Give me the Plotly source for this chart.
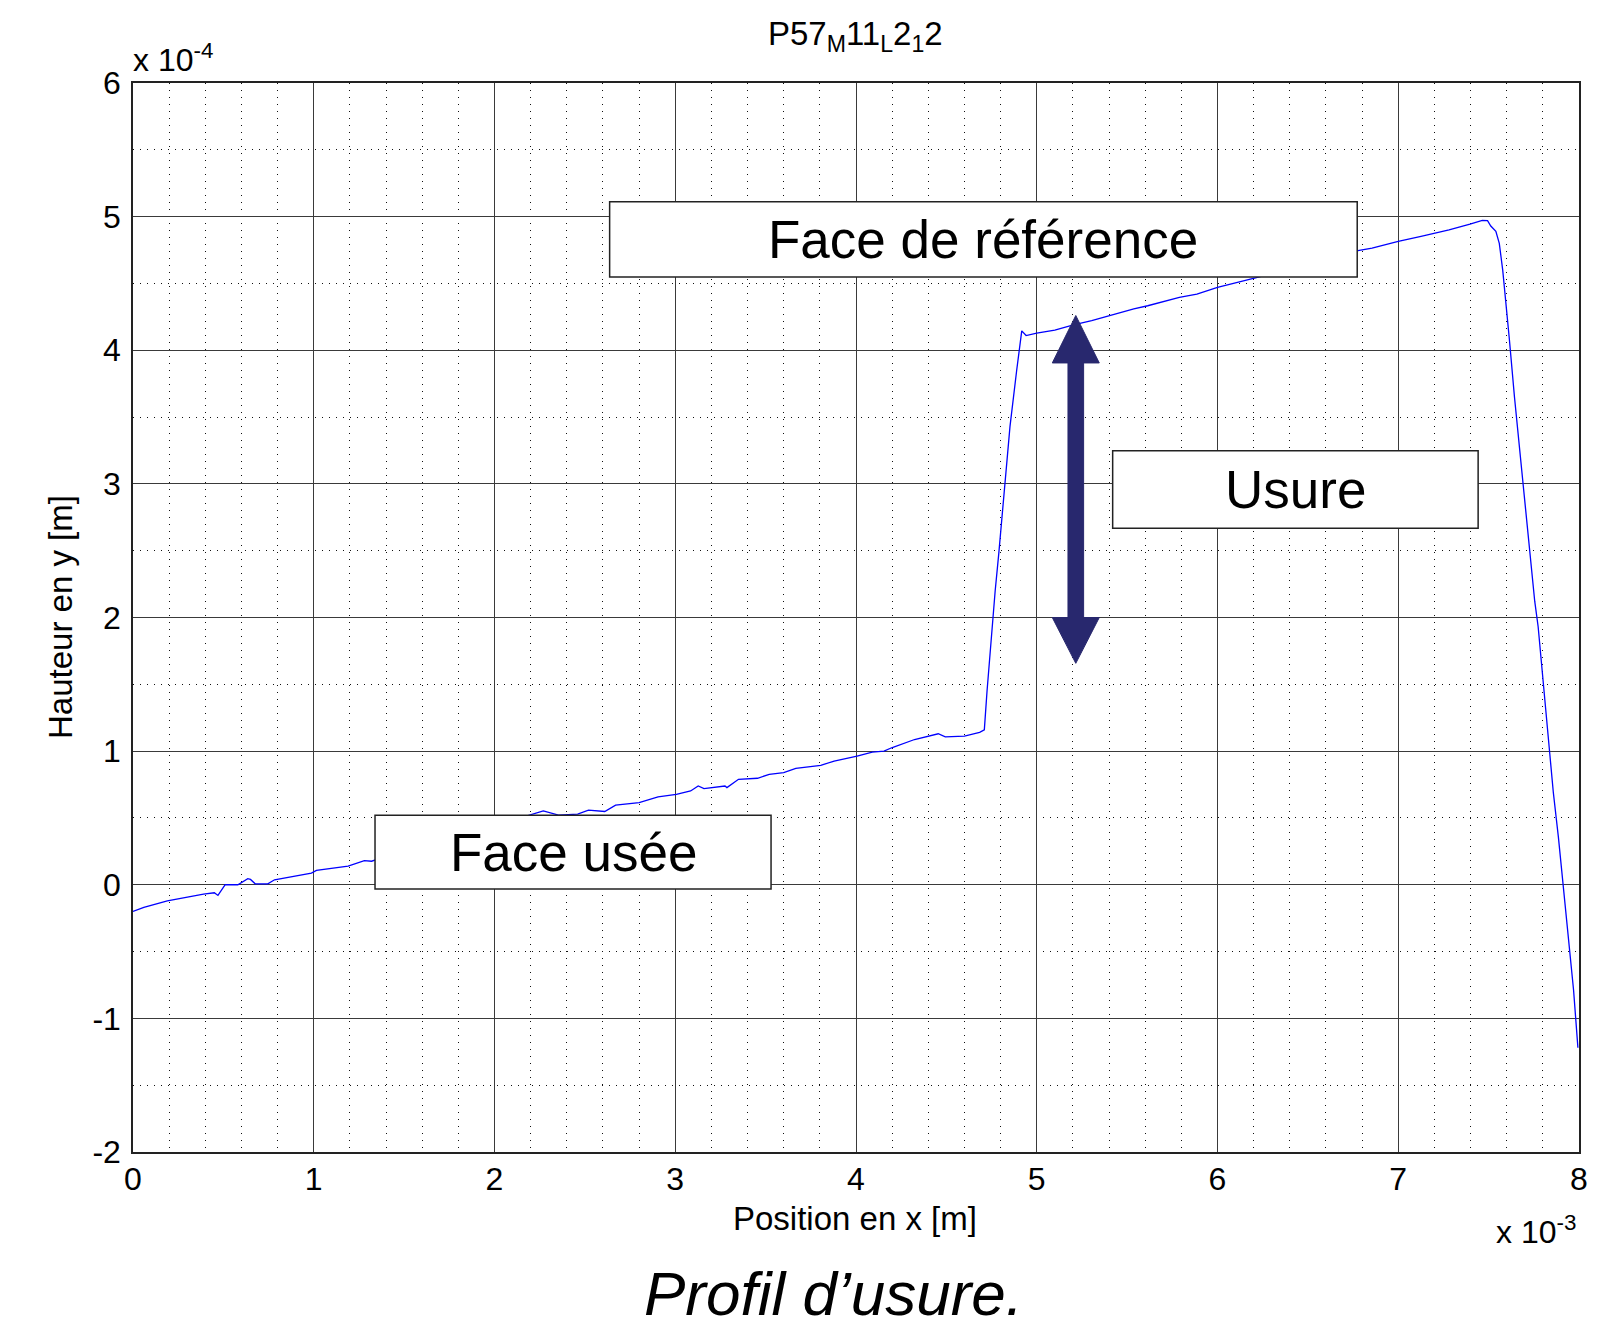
import plotly.graph_objects as go

# ---------------- data (x in 1e-3 m, y in 1e-4 m) ----------------
x_pos = [0.00, 0.06, 0.19, 0.30, 0.39, 0.45, 0.47, 0.51, 0.58, 0.635, 0.65, 0.676,
         0.746, 0.783, 0.894, 0.987, 1.015, 1.117, 1.19, 1.28, 1.32, 1.35, 1.60, 1.90,
         2.205, 2.27, 2.354, 2.46, 2.52, 2.61, 2.67, 2.80, 2.905, 3.006, 3.085, 3.127,
         3.159, 3.275, 3.286, 3.35, 3.455, 3.52, 3.60, 3.667, 3.805, 3.879, 4.006, 4.09,
         4.155, 4.197, 4.324, 4.41, 4.455, 4.494, 4.60, 4.684, 4.71, 4.725, 4.75, 4.77,
         4.79, 4.825, 4.852, 4.889, 4.908, 4.917, 4.941, 5.00, 5.10, 5.203, 5.304, 5.401,
         5.537, 5.614, 5.789, 5.886, 6.00, 6.215, 6.50, 6.777, 6.855, 7.00, 7.126, 7.281,
         7.397, 7.465, 7.494, 7.512, 7.54, 7.559, 7.578, 7.596, 7.615, 7.643, 7.671,
         7.699, 7.727, 7.755, 7.774, 7.802, 7.83, 7.858, 7.886, 7.914, 7.942, 7.97, 7.994]
y_height = [-0.20, -0.17, -0.12, -0.09, -0.07, -0.06, -0.08, 0.00, 0.00, 0.045, 0.04, 0.007,
            0.007, 0.037, 0.067, 0.087, 0.107, 0.127, 0.139, 0.18, 0.176, 0.19, 0.29, 0.40,
            0.529, 0.553, 0.521, 0.529, 0.558, 0.548, 0.596, 0.615, 0.658, 0.677, 0.702, 0.739,
            0.72, 0.739, 0.727, 0.789, 0.797, 0.826, 0.839, 0.871, 0.893, 0.926, 0.963, 0.993,
            1.0, 1.025, 1.087, 1.112, 1.13, 1.107, 1.112, 1.141, 1.16, 1.45, 1.90, 2.20,
            2.48, 3.00, 3.43, 3.85, 4.05, 4.145, 4.11, 4.128, 4.15, 4.19, 4.222, 4.259,
            4.309, 4.333, 4.395, 4.42, 4.47, 4.543, 4.645, 4.746, 4.765, 4.815, 4.852, 4.90,
            4.943, 4.972, 4.97, 4.93, 4.89, 4.80, 4.60, 4.365, 4.079, 3.65, 3.267,
            2.885, 2.504, 2.122, 1.931, 1.501, 1.072, 0.69, 0.356, -0.026, -0.408, -0.79, -1.22]

x_ticks = [0, 1, 2, 3, 4, 5, 6, 7, 8]
y_ticks = [-2, -1, 0, 1, 2, 3, 4, 5, 6]
x_tick_labels = [str(v) for v in x_ticks]
y_tick_labels = [str(v) for v in y_ticks]

title_text = "P57<sub>M</sub>11<sub>L</sub>2<sub>1</sub>2"
x_title = "Position en x [m]"
y_title = "Hauteur en y [m]"
x_exp = "x 10<sup>-3</sup>"
y_exp = "x 10<sup>-4</sup>"
caption = "Profil d’usure."
box_labels = ["Face de référence", "Usure", "Face usée"]

# ---------------- layout helpers ----------------
W, H = 1617, 1323
ML, MR, MT, MB = 133, 38, 83, 171
PW, PH = W - ML - MR, H - MT - MB
FONT = "Liberation Sans, Arial, sans-serif"


def paper_x(px):
    return (px - ML) / PW


def paper_y(py):
    return (H - MB - py) / PH


fig = go.Figure()
fig.add_trace(go.Scatter(x=x_pos, y=y_height, mode="lines",
                         line=dict(color="#0000FF", width=1.3),
                         hoverinfo="skip", showlegend=False))

axis_common = dict(
    showline=True, mirror=True, linecolor="#222222", linewidth=1.5,
    showgrid=True, gridcolor="#3a3a3a", gridwidth=1.2,
    zeroline=False, ticks="", color="black",
    tickfont=dict(family=FONT, size=32, color="black"),
)

fig.update_xaxes(range=[0, 8], tickvals=x_ticks, ticktext=x_tick_labels,
                 minor=dict(dtick=0.2, tick0=0, showgrid=True, gridcolor="#111111",
                            griddash="1px,6px", gridwidth=1.2),
                 ticklabelstandoff=-2, **axis_common)
fig.update_yaxes(range=[-2, 6], tickvals=y_ticks, ticktext=y_tick_labels,
                 minor=dict(dtick=0.5, tick0=0, showgrid=True, gridcolor="#111111",
                            griddash="1px,6px", gridwidth=1.2),
                 ticklabelstandoff=4, **axis_common)

# ---------------- text boxes ----------------
boxes = [
    (box_labels[0], 2.637, 6.773, 4.548, 5.111),
    (box_labels[1], 5.42, 7.442, 2.668, 3.247),
    (box_labels[2], 1.339, 3.53, -0.031, 0.521),
]
shapes = []
annotations = []
for text, x0, x1, y0, y1 in boxes:
    shapes.append(dict(type="rect", xref="x", yref="y", x0=x0, x1=x1, y0=y0, y1=y1,
                       fillcolor="white", line=dict(color="#222222", width=1.5),
                       layer="above"))
    annotations.append(dict(xref="x", yref="y", x=(x0 + x1) / 2, y=(y0 + y1) / 2,
                            text=text, showarrow=False, xanchor="center", yanchor="middle",
                            font=dict(family=FONT, size=53, color="black")))

# double-headed arrow (Usure)
cx, top, hb1, hb2, bot = 5.216, 4.26, 3.905, 2.0, 1.657
hw, sw = 0.130, 0.0433
path = (f"M {cx},{top} L {cx + hw},{hb1} L {cx + sw},{hb1} L {cx + sw},{hb2} "
        f"L {cx + hw},{hb2} L {cx},{bot} L {cx - hw},{hb2} L {cx - sw},{hb2} "
        f"L {cx - sw},{hb1} L {cx - hw},{hb1} Z")
shapes.append(dict(type="path", xref="x", yref="y", path=path,
                   fillcolor="#28286E", line=dict(color="#28286E", width=1), layer="above"))

# titles and exponent labels
annotations += [
    dict(xref="paper", yref="paper", x=paper_x(855), y=paper_y(36), text=title_text,
         showarrow=False, xanchor="center", yanchor="middle",
         font=dict(family=FONT, size=33, color="black")),
    dict(xref="paper", yref="paper", x=paper_x(855), y=paper_y(1218), text=x_title,
         showarrow=False, xanchor="center", yanchor="middle",
         font=dict(family=FONT, size=33, color="black")),
    dict(xref="paper", yref="paper", x=paper_x(60), y=paper_y(617), text=y_title,
         showarrow=False, xanchor="center", yanchor="middle", textangle=-90,
         font=dict(family=FONT, size=33, color="black")),
    dict(xref="paper", yref="paper", x=paper_x(1578), y=paper_y(1230), text=x_exp,
         showarrow=False, xanchor="right", yanchor="middle",
         font=dict(family=FONT, size=32, color="black")),
    dict(xref="paper", yref="paper", x=paper_x(131), y=paper_y(58), text=y_exp,
         showarrow=False, xanchor="left", yanchor="middle",
         font=dict(family=FONT, size=32, color="black")),
    dict(xref="paper", yref="paper", x=paper_x(833), y=paper_y(1293), text=f"<i>{caption}</i>",
         showarrow=False, xanchor="center", yanchor="middle",
         font=dict(family=FONT, size=62, color="black")),
]

fig.update_layout(
    width=W, height=H,
    margin=dict(l=ML, r=MR, t=MT, b=MB, pad=0),
    paper_bgcolor="white", plot_bgcolor="white",
    font=dict(family=FONT, color="black"),
    shapes=shapes, annotations=annotations,
    showlegend=False,
)

fig.write_html("out.html", config={"displayModeBar": False},
               post_script="document.documentElement.style.margin='0';"
                           "document.body.style.margin='0';"
                           "document.body.style.overflow='hidden';")
